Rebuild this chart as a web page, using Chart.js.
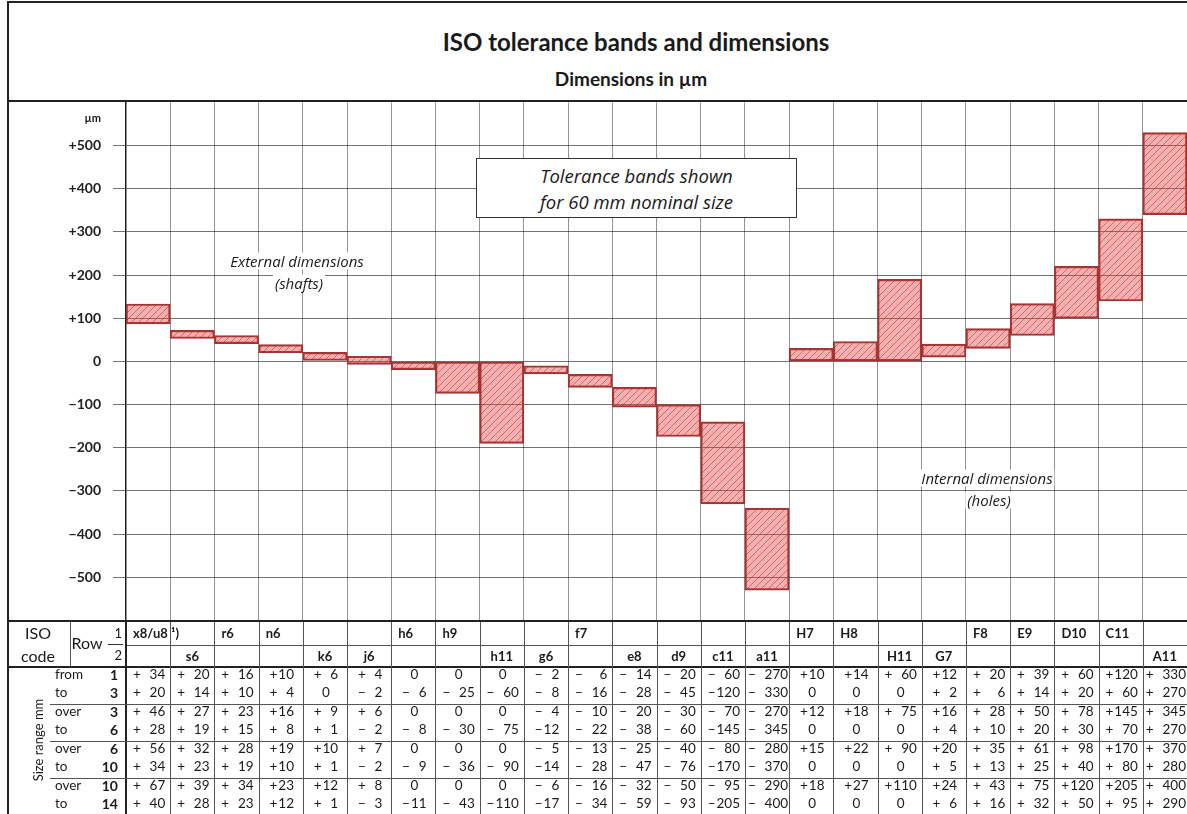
<!DOCTYPE html>
<html lang="en">
<head>
<meta charset="UTF-8">
<title>ISO tolerance bands and dimensions</title>
<script src="https://cdn.jsdelivr.net/npm/chart.js@4.4.1/dist/chart.umd.min.js"></script>
<style>
  body { margin: 0; background: #fff; font-family: Lato, 'Noto Sans', sans-serif; color: #1a1a1a;
         width: 1187px; height: 814px; overflow: hidden; position: relative; }
  .line { position: absolute; }
  .t { position: absolute; white-space: nowrap; line-height: 1; }
  .title { font-weight: bold; font-size: 24px; }
  .sub { font-weight: bold; font-size: 19px; }
  .note { font-family: 'Open Sans', sans-serif; font-style: italic; font-size: 15px; background: #fff; padding: 1px 2px; }
  #box { position: absolute; left: 476px; top: 158px; width: 321px; height: 60px; border: 1.5px solid #333; background: #fff;
         font-family: 'Open Sans', sans-serif; font-style: italic; font-size: 18.5px; text-align: center; line-height: 26px;
         padding-top: 4px; box-sizing: border-box; }
  #chartWrap { position: absolute; left: 8px; top: 102px; width: 1179px; height: 518px; }
  #tbl { position: absolute; left: 8px; top: 620px; width: 1179px; height: 194px; overflow: hidden; font-size: 13.5px; }
  .hd { font-weight: bold; font-size: 13px; }
  .cell span { display: inline-block; text-align: right; }
  .cell .sg { margin-right: 1px; }
</style>
</head>
<body>
<div class="line" style="left:7px;top:1px;width:1200px;height:2px;background:#222"></div>
<div class="line" style="left:7px;top:1px;width:2px;height:820px;background:#222"></div>
<div class="line" style="left:7px;top:100px;width:1200px;height:2px;background:#222"></div>
<div class="t title" style="left:636px;top:42px;transform:translate(-50%,-50%)">ISO tolerance bands and dimensions</div>
<div class="t sub" style="left:631px;top:78px;transform:translate(-50%,-50%)">Dimensions in µm</div>

<div id="chartWrap"><canvas id="chart"></canvas></div>
<div class="t" style="left:101px;top:117px;transform:translate(-100%,-50%);font-size:11px;font-weight:bold">µm</div>

<div class="t note" style="left:297px;top:261px;transform:translate(-50%,-50%)">External dimensions</div>
<div class="t note" style="left:299px;top:283px;transform:translate(-50%,-50%)">(shafts)</div>
<div class="t note" style="left:987px;top:478px;transform:translate(-50%,-50%)">Internal dimensions</div>
<div class="t note" style="left:989px;top:500px;transform:translate(-50%,-50%)">(holes)</div>
<div id="box">Tolerance bands shown<br>for 60 mm nominal size</div>

<div id="tbl"></div>

<script>
// ISO codes, left to right
const codes = ['x8/u8', 's6', 'r6', 'n6', 'k6', 'j6', 'h6', 'h9', 'h11', 'g6', 'f7', 'e8', 'd9', 'c11', 'a11',
               'H7', 'H8', 'H11', 'G7', 'F8', 'E9', 'D10', 'C11', 'A11'];
const isoRow = [1, 2, 1, 1, 2, 2, 1, 1, 2, 2, 1, 2, 2, 2, 2, 1, 1, 2, 2, 1, 1, 1, 1, 2];
const footnoteCode = 'x8/u8';

// band limits for 60 mm nominal size (µm)
const bandUpper = [133, 72, 60, 39, 21, 12, 0, 0, 0, -10, -30, -60, -100, -140, -340, 30, 46, 190, 40, 76, 134, 220, 330, 530];
const bandLower = [87, 53, 41, 20, 2, -7, -19, -74, -190, -29, -60, -106, -174, -330, -530, 0, 0, 0, 10, 30, 60, 100, 140, 340];

// table: size ranges and deviations
const sizeRanges = [['from', 1, 'to', 3], ['over', 3, 'to', 6], ['over', 6, 'to', 10], ['over', 10, 'to', 14]];
const upper_1_3 = [34, 20, 16, 10, 6, 4, 0, 0, 0, -2, -6, -14, -20, -60, -270, 10, 14, 60, 12, 20, 39, 60, 120, 330];
const lower_1_3 = [20, 14, 10, 4, 0, -2, -6, -25, -60, -8, -16, -28, -45, -120, -330, 0, 0, 0, 2, 6, 14, 20, 60, 270];
const upper_3_6 = [46, 27, 23, 16, 9, 6, 0, 0, 0, -4, -10, -20, -30, -70, -270, 12, 18, 75, 16, 28, 50, 78, 145, 345];
const lower_3_6 = [28, 19, 15, 8, 1, -2, -8, -30, -75, -12, -22, -38, -60, -145, -345, 0, 0, 0, 4, 10, 20, 30, 70, 270];
const upper_6_10 = [56, 32, 28, 19, 10, 7, 0, 0, 0, -5, -13, -25, -40, -80, -280, 15, 22, 90, 20, 35, 61, 98, 170, 370];
const lower_6_10 = [34, 23, 19, 10, 1, -2, -9, -36, -90, -14, -28, -47, -76, -170, -370, 0, 0, 0, 5, 13, 25, 40, 80, 280];
const upper_10_14 = [67, 39, 34, 23, 12, 8, 0, 0, 0, -6, -16, -32, -50, -95, -290, 18, 27, 110, 24, 43, 75, 120, 205, 400];
const lower_10_14 = [40, 28, 23, 12, 1, -3, -11, -43, -110, -17, -34, -59, -93, -205, -400, 0, 0, 0, 6, 16, 32, 50, 95, 290];
const upperRows = [upper_1_3, upper_3_6, upper_6_10, upper_10_14];
const lowerRows = [lower_1_3, lower_3_6, lower_6_10, lower_10_14];

// narrow columns print 2-digit numbers, a11/A11 get an extra space
const narrowCodes = ['n6', 'k6', 'j6', 'h6', 'g6', 'H7', 'H8', 'G7'];
const wideCodes = ['a11', 'A11'];

function hatch() {
    const c = document.createElement('canvas');
    c.width = 7; c.height = 7;
    const g = c.getContext('2d');
    g.fillStyle = 'rgba(236,62,62,0.42)';
    g.fillRect(0, 0, 7, 7);
    g.strokeStyle = 'rgba(140,30,30,0.55)';
    g.lineWidth = 0.8;
    g.beginPath();
    g.moveTo(0, 7); g.lineTo(7, 0);
    g.moveTo(-1, 1); g.lineTo(1, -1);
    g.moveTo(6, 8); g.lineTo(8, 6);
    g.stroke();
    return g.createPattern(c, 'repeat');
}

const chart = new Chart(document.getElementById('chart'), {
    type: 'bar',
    data: {
        labels: codes,
        datasets: [{
            data: codes.map((c, i) => [bandLower[i], bandUpper[i]]),
            backgroundColor: hatch(),
            borderColor: '#9e3434',
            borderWidth: 1.5,
            borderSkipped: false,
            barPercentage: 1,
            categoryPercentage: 1
        }]
    },
    options: {
        responsive: true,
        maintainAspectRatio: false,
        animation: false,
        layout: { padding: 0 },
        plugins: { legend: { display: false }, tooltip: { enabled: false } },
        scales: {
            x: {
                grid: { color: 'rgba(0,0,0,0.42)', drawTicks: false, offset: true },
                ticks: { display: false },
                border: { display: false }
            },
            y: {
                min: -600,
                max: 600,
                afterFit: (axis) => { axis.width = 118; },
                ticks: {
                    stepSize: 100,
                    padding: 12,
                    color: '#222',
                    font: { family: 'Lato', size: 14, weight: 'bold' },
                    callback: (v) => Math.abs(v) >= 600 ? null : v === 0 ? '0' : (v > 0 ? '+' : '\u2212') + Math.abs(v)
                },
                grid: { color: 'rgba(0,0,0,0.55)', tickLength: 13 },
                border: { color: '#222', width: 1.5 }
            }
        }
    }
});

// stretch the canvas so the plot area spans exactly 102..620 px
const wrap = document.getElementById('chartWrap');
const padTop = chart.chartArea.top;
const padBottom = chart.height - chart.chartArea.bottom;
wrap.style.top = (102 - padTop) + 'px';
wrap.style.height = (518 + padTop + padBottom) + 'px';
chart.resize();

// table under the chart, aligned on the category columns
const tbl = document.getElementById('tbl');
const xs = chart.scales.x;
const colW = (xs.right - xs.left) / codes.length;

function line(x, y, w, h, color) {
    const d = document.createElement('div');
    d.className = 'line';
    d.style.cssText = `left:${x}px;top:${y}px;width:${w}px;height:${h}px;background:${color}`;
    tbl.appendChild(d);
}
function text(str, x, y, align, cls, extra, rot) {
    const d = document.createElement('div');
    d.className = 't ' + (cls || '');
    d.innerHTML = str;
    const tx = align === 'l' ? '0' : align === 'r' ? '-100%' : '-50%';
    d.style.cssText = `left:${x}px;top:${y}px;transform:translate(${tx},-50%)${rot ? ' rotate(' + rot + 'deg)' : ''};${extra || ''}`;
    tbl.appendChild(d);
}
function fmt(v, code) {
    if (v === 0) return '0';
    const w = narrowCodes.includes(code) ? 2 : wideCodes.includes(code) ? 4 : 3;
    return `<span class="sg">${v > 0 ? '+' : '\u2212'}</span><span style="min-width:${w}ch">${Math.abs(v)}</span>`;
}

line(0, 0, 1179, 2, '#222');
line(0, 46, 1179, 2, '#222');
line(xs.left, 25, 1179 - xs.left, 1, '#555');
line(62, 2, 1, 44, '#555');
line(100, 24, 15, 1, '#333');
for (let i = 1; i < codes.length; i++) line(xs.left + i * colW, 2, 1, 192, '#555');
line(xs.left - 1, 0, 2, 194, '#222');
[84, 121, 158].forEach(y => line(42, y, 1179 - 42, 1, '#555'));

text('ISO', 30, 13, 'c', '', 'font-size:16px');
text('code', 30, 36, 'c', '', 'font-size:16px');
text('Row', 79, 23, 'c', '', 'font-size:16px');
text('1', 114, 13, 'r', '', 'font-size:13px');
text('2', 114, 35, 'r', '', 'font-size:13px');
text('Size range mm', 30, 120, 'c', '', 'font-size:13px', -90);

codes.forEach((code, i) => {
    const cx = xs.getPixelForValue(i);
    const label = code + (code === footnoteCode ? ' ¹)' : '');
    if (isoRow[i] === 1) text(label, cx - colW / 2 + 7, 13, 'l', 'hd');
    else text(label, cx, 36, 'c', 'hd');
});

sizeRanges.forEach((r, g) => {
    const y1 = 55 + 37 * g, y2 = 73 + 37 * g;
    text(r[0], 47, y1, 'l');
    text(r[2], 47, y2, 'l');
    text(r[1], 110, y1, 'r', 'hd', 'font-size:14px');
    text(r[3], 110, y2, 'r', 'hd', 'font-size:14px');
    codes.forEach((code, i) => {
        const cx = xs.getPixelForValue(i) + 1;
        text(fmt(upperRows[g][i], code), cx, y1, 'c', 'cell');
        text(fmt(lowerRows[g][i], code), cx, y2, 'c', 'cell');
    });
});
</script>
</body>
</html>
